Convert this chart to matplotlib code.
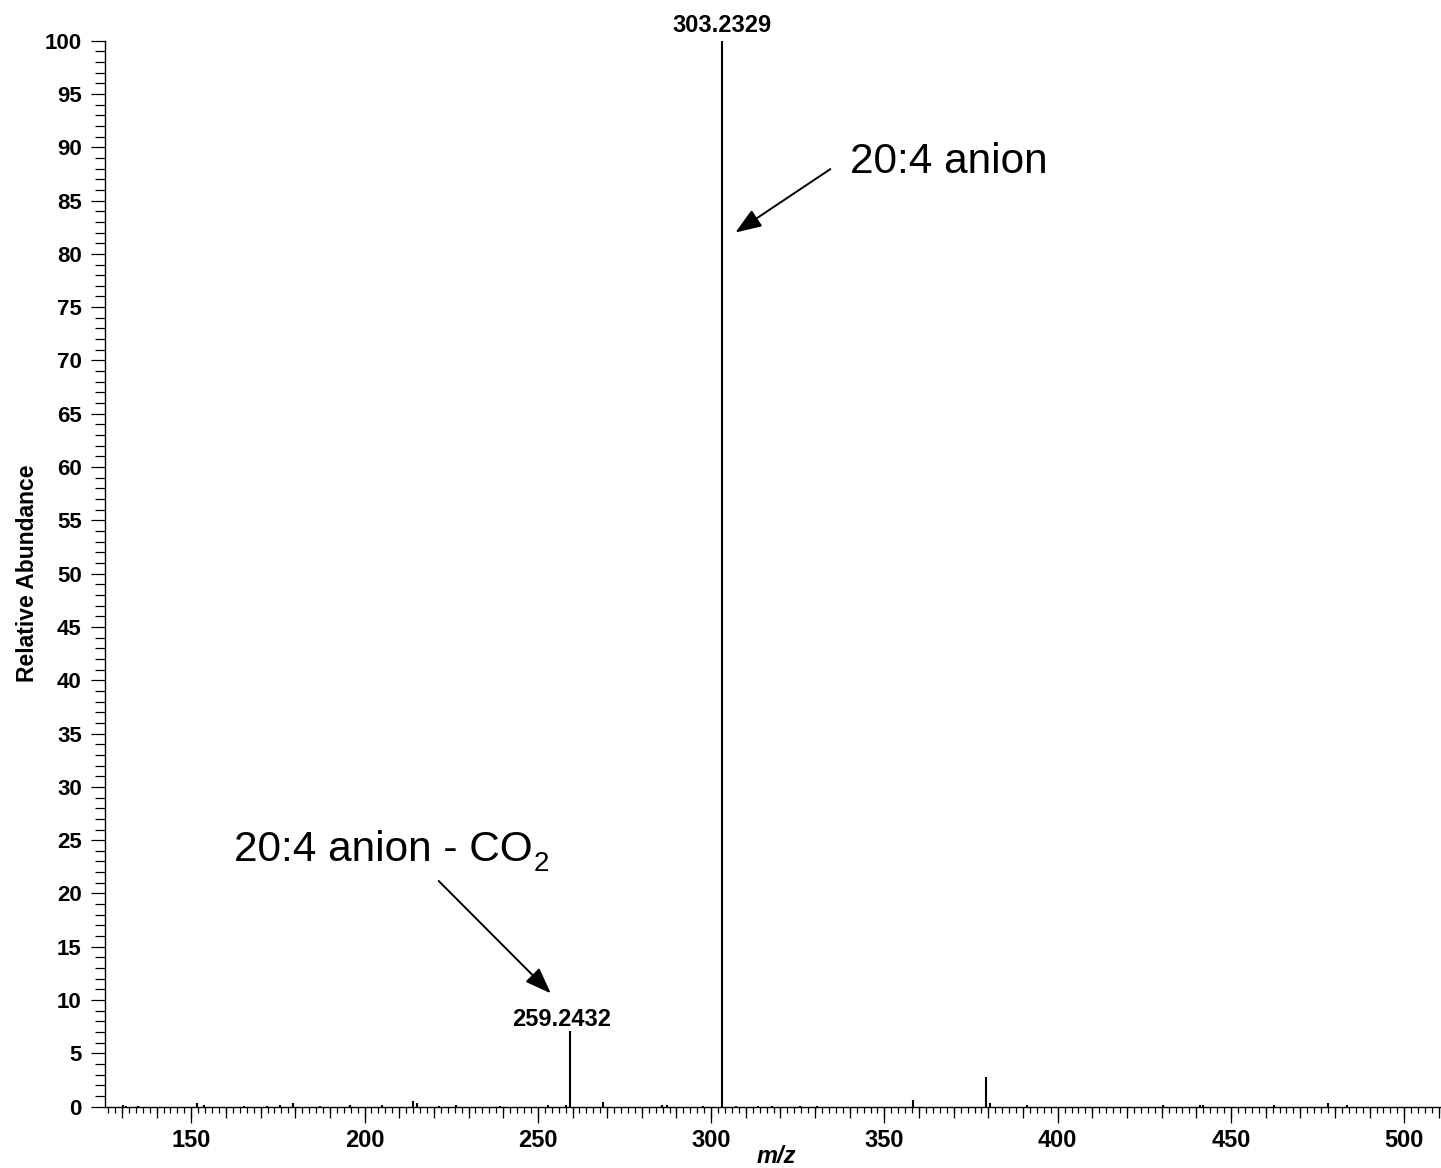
import numpy as np
import matplotlib
matplotlib.use("Agg")
import matplotlib.pyplot as plt
from matplotlib.ticker import MultipleLocator

plt.rcParams['font.family'] = ['Liberation Sans', 'DejaVu Sans']

# stick spectrum: m/z and relative abundance
mz = [130.3, 131.3, 134.7, 151.7, 153.8, 165.3, 171.9, 175.6, 179.4, 187.1,
      195.8, 205.1, 213.9, 215.2, 221.5, 226.5, 239.0, 252.8, 258.2, 259.2432,
      268.8, 285.8, 287.2, 297.6, 303.2329, 307.2, 313.6, 317.7, 325.5, 330.6,
      358.3, 379.4, 380.4, 391.0, 430.3, 441.0, 441.9, 462.3, 478.0, 483.5]
abundance = [0.15, 0.1, 0.1, 0.35, 0.15, 0.1, 0.1, 0.12, 0.3, 0.1,
             0.15, 0.15, 0.55, 0.3, 0.1, 0.2, 0.1, 0.15, 0.15, 7.1,
             0.45, 0.15, 0.15, 0.1, 100.0, 0.1, 0.1, 0.1, 0.1, 0.1,
             0.6, 2.75, 0.3, 0.2, 0.2, 0.15, 0.15, 0.15, 0.35, 0.15]

# labelled peaks
label_mz = [259.2432, 303.2329]
label_ab = [7.1, 100.0]
label_txt = ["259.2432", "303.2329"]

fig = plt.figure(figsize=(14.41, 11.68), dpi=100)
ax = fig.add_axes([0.0731, 0.0525, 0.9269, 0.9127])

ax.vlines(mz, 0, abundance, color='black', lw=1.5)

ax.set_xlim(125.2, 510.6)
ax.set_ylim(0, 100)

ax.spines['top'].set_visible(False)
ax.spines['right'].set_visible(False)
ax.spines['left'].set_linewidth(1.0)
ax.spines['bottom'].set_linewidth(1.0)

# y ticks
ax.yaxis.set_major_locator(MultipleLocator(5))
ax.yaxis.set_minor_locator(MultipleLocator(1))
ax.tick_params(axis='y', which='major', length=10, width=0.9, pad=7, labelsize=16)
ax.tick_params(axis='y', which='minor', length=7, width=0.9)

# x ticks: major every 50, minor every 2, medium every 10
ax.xaxis.set_major_locator(MultipleLocator(50))
ax.xaxis.set_minor_locator(MultipleLocator(2))
ax.tick_params(axis='x', which='major', length=11.3, width=0.9, pad=5, labelsize=17)
ax.tick_params(axis='x', which='minor', length=4.2, width=0.9)
sec = ax.secondary_xaxis('bottom')
sec.set_xticks(np.arange(130, 511, 10))
sec.tick_params(length=7.7, width=0.9, labelbottom=False)
sec.spines['bottom'].set_visible(False)

for lab in ax.get_xticklabels() + ax.get_yticklabels():
    lab.set_fontweight('bold')

ax.set_xlabel('m/z', fontsize=17, fontweight='bold', style='italic')
ax.xaxis.label.set_va('baseline')
ax.xaxis.set_label_coords(0.5027, -0.0525)
ax.set_ylabel('Relative Abundance', fontsize=16.5, fontweight='bold', labelpad=4)

# peak labels
offsets = [(-6, 3.5), (0, 6)]
for x, y, t, off in zip(label_mz, label_ab, label_txt, offsets):
    ax.annotate(t, xy=(x, y), xytext=off, textcoords='offset points',
                ha='center', va='baseline', fontsize=17, fontweight='bold',
                annotation_clip=False)

arrow = dict(arrowstyle='-|>,head_length=0.8,head_width=0.3', color='black',
             lw=1.4, mutation_scale=20, shrinkA=0, shrinkB=0)

# annotations
ax.text(340.0, 87.56, '20:4 anion', fontsize=30.5, va='baseline', ha='left')
ax.annotate('', xy=(307.0, 82.0), xytext=(334.4, 87.95), arrowprops=arrow)

co2 = ax.text(162.2, 23.08, '20:4 anion - CO', fontsize=30.5, va='baseline', ha='left')
ax.annotate('2', xy=(1, 0), xycoords=co2, xytext=(1, -1), textcoords='offset points',
            fontsize=20, va='baseline', ha='left')
ax.annotate('', xy=(253.7, 10.64), xytext=(221.4, 21.17), arrowprops=arrow)

fig.savefig('out.png', dpi=100)
